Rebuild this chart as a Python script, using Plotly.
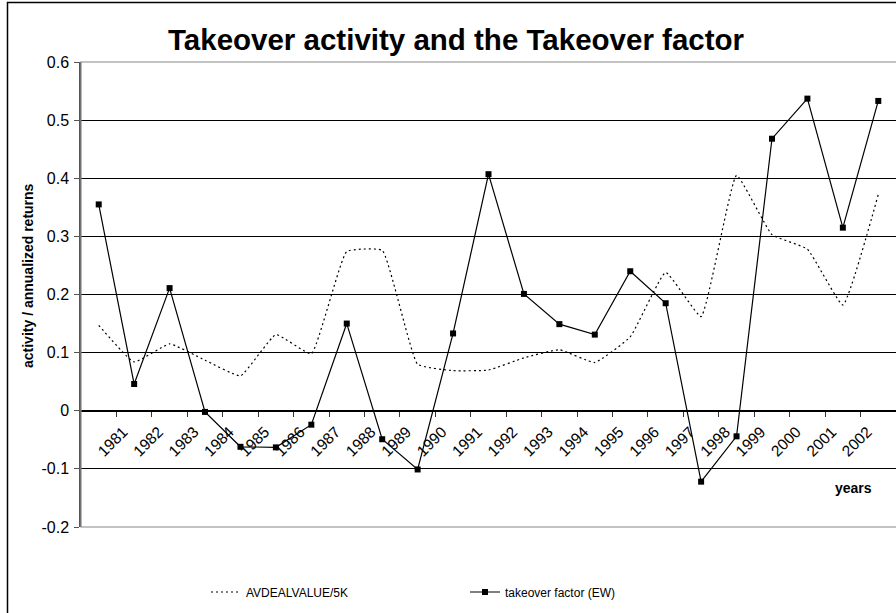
import plotly.graph_objects as go

# ---- data ----
periods = list(range(23))
year_labels = ["1981", "1982", "1983", "1984", "1985", "1986", "1987", "1988",
               "1989", "1990", "1991", "1992", "1993", "1994", "1995", "1996",
               "1997", "1998", "1999", "2000", "2001", "2002"]
label_positions = list(range(1, 23))
avdealvalue_5k = [0.147, 0.084, 0.115, 0.087, 0.060, 0.131, 0.098, 0.274, 0.276,
                  0.080, 0.069, 0.070, 0.091, 0.105, 0.083, 0.127, 0.238, 0.162,
                  0.405, 0.303, 0.278, 0.182, 0.372]
takeover_factor = [0.355, 0.046, 0.211, -0.002, -0.062, -0.063, -0.024, 0.150,
                   -0.049, -0.101, 0.133, 0.407, 0.201, 0.149, 0.131, 0.240,
                   0.185, -0.122, -0.044, 0.468, 0.537, 0.315, 0.533]
y_ticks = [-0.2, -0.1, 0, 0.1, 0.2, 0.3, 0.4, 0.5, 0.6]
y_tick_text = ["-0.2", "-0.1", "0", "0.1", "0.2", "0.3", "0.4", "0.5", "0.6"]

FONT = "Arial, Liberation Sans, sans-serif"
W, H = 896, 613
L, R, T, B = 81, 0, 62, 86
PW, PH = W - L - R, H - T - B

def px_x(x):
    return (x - L) / PW

def px_y(y):
    return (H - B - y) / PH

fig = go.Figure()
fig.add_trace(go.Scatter(
    x=periods, y=avdealvalue_5k, mode="lines", name="AVDEALVALUE/5K",
    line=dict(color="black", width=1.2, dash="2px,3px", shape="spline", smoothing=0.35),
    legend="legend",
))
fig.add_trace(go.Scatter(
    x=periods, y=takeover_factor, mode="lines+markers", name="takeover factor (EW)",
    line=dict(color="black", width=1.2),
    marker=dict(symbol="square", size=6, color="black"),
    legend="legend2",
))

fig.update_layout(
    width=W, height=H,
    margin=dict(l=L, r=R, t=T, b=B),
    paper_bgcolor="white", plot_bgcolor="white",
    font=dict(family=FONT, color="black"),
    title=dict(text="<b>Takeover activity and the Takeover factor</b>",
               x=456 / W, xanchor="center", xref="container",
               y=1 - 40 / H, yanchor="middle", yref="container",
               font=dict(size=29.5, family=FONT, color="black")),
    xaxis=dict(
        range=[-0.5, 22.5], anchor="free", position=0.25,
        tickmode="array", tickvals=label_positions, ticktext=year_labels,
        tickangle=-45, ticks="outside", ticklen=5, tickcolor="rgba(0,0,0,0)",
        ticklabelshift=-11,
        tickfont=dict(size=15.5, family=FONT, color="black"),
        minor=dict(tickmode="array", tickvals=[i + 0.5 for i in range(22)],
                   ticks="outside", ticklen=5, tickcolor="#333", tickwidth=1),
        showline=True, linecolor="black", linewidth=1,
        showgrid=False, zeroline=False, fixedrange=True,
    ),
    yaxis=dict(
        range=[-0.2, 0.6], tickmode="array", tickvals=y_ticks, ticktext=y_tick_text,
        ticks="outside", ticklen=5, tickcolor="#555", tickwidth=1,
        ticklabelstandoff=2,
        tickfont=dict(size=16, family=FONT, color="black"),
        showline=True, linecolor="#555", linewidth=1.5,
        showgrid=True, gridcolor="black", gridwidth=1,
        zeroline=False, fixedrange=True,
    ),
    legend=dict(orientation="h", x=206 / W, xanchor="left", xref="container",
                y=1 - 592 / H, yanchor="middle", yref="container",
                font=dict(size=12, family=FONT, color="black"),
                bgcolor="rgba(0,0,0,0)"),
    legend2=dict(orientation="h", x=465 / W, xanchor="left", xref="container",
                 y=1 - 592 / H, yanchor="middle", yref="container",
                 font=dict(size=12, family=FONT, color="black"),
                 bgcolor="rgba(0,0,0,0)"),
    showlegend=True,
)

# plot area border (grey) and chart border (black)
fig.add_shape(type="rect", xref="paper", yref="paper", x0=0, y0=0, x1=1.01, y1=1,
              line=dict(color="#888", width=1.2), layer="above")
fig.add_shape(type="rect", xref="paper", yref="paper",
              x0=px_x(7.5), y0=px_y(625), x1=px_x(910), y1=px_y(2.5),
              line=dict(color="black", width=1.5), layer="above")

fig.add_annotation(text="<b>activity / annualized returns</b>", textangle=-90,
                   xref="paper", yref="paper", x=px_x(28), y=px_y(276),
                   showarrow=False, xanchor="center", yanchor="middle",
                   font=dict(size=14, family=FONT, color="black"))
fig.add_annotation(text="<b>years</b>", xref="paper", yref="paper",
                   x=px_x(853), y=px_y(488), showarrow=False,
                   xanchor="center", yanchor="middle",
                   font=dict(size=14, family=FONT, color="black"))

fig.write_html("out.html")
